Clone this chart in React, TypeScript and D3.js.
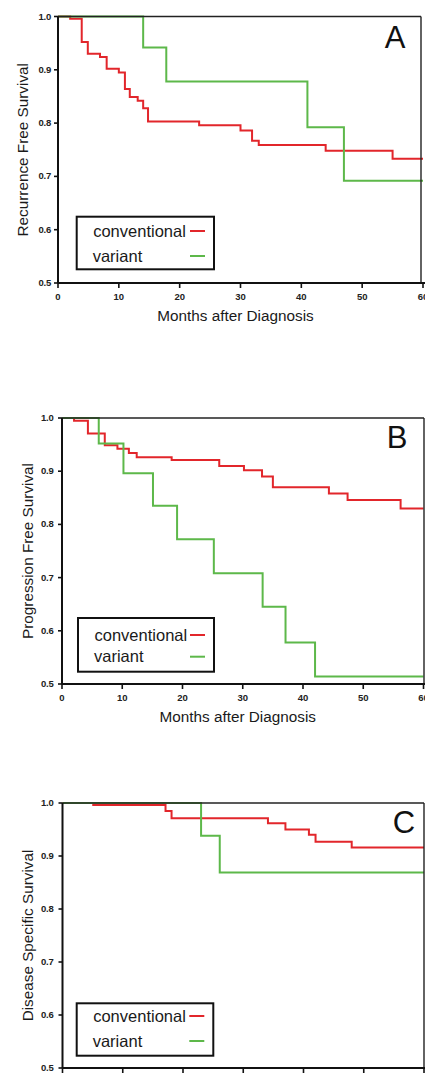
import React from "react";
import * as d3 from "d3";

// ---------- Data ----------
const xTicks = [0, 10, 20, 30, 40, 50, 60];
const yTicks = [0.5, 0.6, 0.7, 0.8, 0.9, 1.0];
const yTickLabels = ["0.5", "0.6", "0.7", "0.8", "0.9", "1.0"];
const seriesNames = ["conventional", "variant"];

// Panel A: Recurrence Free Survival
const aConvTimes = [0, 2, 3.9, 4.9, 6.9, 8, 10, 11, 11.8, 13.1, 14, 14.8, 23.2, 30, 31.9, 33, 44, 55, 60];
const aConvSurv = [1.0, 0.996, 0.952, 0.93, 0.924, 0.902, 0.895, 0.864, 0.849, 0.842, 0.828, 0.803, 0.796, 0.786, 0.767, 0.759, 0.748, 0.733, 0.733];
const aVarTimes = [0, 14, 17.8, 41, 47, 60];
const aVarSurv = [1.0, 0.942, 0.878, 0.792, 0.692, 0.692];

// Panel B: Progression Free Survival
const bConvTimes = [0, 2, 4.3, 7.1, 9.2, 11.1, 12.4, 18.2, 26.1, 30.2, 33.2, 35, 44.3, 47.4, 56.2, 60];
const bConvSurv = [1.0, 0.995, 0.971, 0.949, 0.942, 0.934, 0.926, 0.921, 0.91, 0.902, 0.89, 0.87, 0.858, 0.846, 0.83, 0.83];
const bVarTimes = [0, 6.1, 10.2, 15.1, 19.1, 25.2, 33.3, 37.1, 42, 60];
const bVarSurv = [1.0, 0.952, 0.896, 0.835, 0.772, 0.708, 0.645, 0.578, 0.514, 0.514];

// Panel C: Disease Specific Survival
const cConvTimes = [0, 5.1, 17.1, 18.1, 34.1, 37, 40.9, 42, 48, 60];
const cConvSurv = [1.0, 0.996, 0.985, 0.971, 0.962, 0.95, 0.94, 0.927, 0.916, 0.916];
const cVarTimes = [0, 23, 26.1, 60];
const cVarSurv = [1.0, 0.938, 0.869, 0.869];

const RED = "#e2262b";
const GREEN = "#5db84a";
const FONT = "'Liberation Sans', Arial, Helvetica, sans-serif";

type Geo = {
  left: number; right: number; top: number; bottom: number; frameRight: number;
  yLabelX: number; tickRight: number; letterX: number; letterY: number;
  legend: { x0: number; x1: number; y0: number; y1: number; r1: number; r2: number };
  xLabelY: number; xTickLabelY: number; showXLabels: boolean;
};

type PanelProps = {
  geo: Geo; letter: string; yLabel: string;
  conv: [number[], number[]]; variant: [number[], number[]];
};

function Panel({ geo, letter, yLabel, conv, variant }: PanelProps) {
  const x = d3.scaleLinear().domain([0, 60]).range([geo.left, geo.right]);
  const y = d3.scaleLinear().domain([0.5, 1.0]).range([geo.bottom, geo.top]);
  const line = d3
    .line<[number, number]>()
    .x((d) => x(d[0]))
    .y((d) => y(d[1]))
    .curve(d3.curveStepAfter);
  const toPts = (s: [number[], number[]]) => s[0].map((t, i) => [t, s[1][i]] as [number, number]);
  const lg = geo.legend;
  const midX = (geo.left + geo.right) / 2 - 5;
  const midY = (geo.top + geo.bottom) / 2;
  return (
    <g>
      <path d={line(toPts(conv)) || ""} fill="none" stroke={RED} strokeWidth={2} />
      <path d={line(toPts(variant)) || ""} fill="none" stroke={GREEN} strokeWidth={2} />
      {/* frame */}
      <line x1={geo.left} x2={geo.frameRight} y1={geo.top} y2={geo.top} stroke="#222" strokeWidth={1.6} />
      <line x1={geo.frameRight} x2={geo.frameRight} y1={geo.top} y2={geo.bottom} stroke="#222" strokeWidth={1.4} />
      <line x1={geo.left} x2={geo.left} y1={geo.top} y2={geo.bottom} stroke="#111" strokeWidth={2} />
      <line x1={geo.left} x2={geo.right + 2} y1={geo.bottom} y2={geo.bottom} stroke="#111" strokeWidth={2} />
      {/* y ticks */}
      {yTicks.map((v, i) => (
        <g key={"y" + i}>
          <line x1={geo.left - 4} x2={geo.left} y1={y(v)} y2={y(v)} stroke="#111" strokeWidth={1.6} />
          <text x={geo.tickRight} y={y(v) + 3} textAnchor="end" fontSize={9.5} fontWeight="bold" fontFamily={FONT} fill="#222" letterSpacing={-0.2}>
            {yTickLabels[i]}
          </text>
        </g>
      ))}
      {/* x ticks */}
      {xTicks.map((t) => (
        <g key={"x" + t}>
          <line x1={x(t)} x2={x(t)} y1={geo.bottom} y2={geo.bottom + 5} stroke="#111" strokeWidth={1.6} />
          {geo.showXLabels && (
            <text x={x(t)} y={geo.xTickLabelY} textAnchor="middle" fontSize={9.5} fontWeight="bold" fontFamily={FONT} fill="#222">
              {t}
            </text>
          )}
        </g>
      ))}
      {geo.showXLabels && (
        <text x={midX} y={geo.xLabelY} textAnchor="middle" fontSize={15.3} fontFamily={FONT} fill="#1a1a1a">
          Months after Diagnosis
        </text>
      )}
      <text
        transform={`translate(${geo.yLabelX},${midY}) rotate(-90)`}
        textAnchor="middle"
        fontSize={15.3}
        fontFamily={FONT}
        fill="#1a1a1a"
      >
        {yLabel}
      </text>
      <text x={geo.letterX} y={geo.letterY} fontSize={31} fontFamily={FONT} fill="#111" textAnchor="middle">
        {letter}
      </text>
      {/* legend */}
      <rect x={lg.x0} y={lg.y0} width={lg.x1 - lg.x0} height={lg.y1 - lg.y0} fill="#fff" stroke="#111" strokeWidth={2} />
      <text x={lg.x0 + 16.5} y={lg.r1 + 5.5} fontSize={16.5} fontFamily={FONT} fill="#1a1a1a">
        {seriesNames[0]}
      </text>
      <text x={lg.x0 + 16} y={lg.r2 + 5.5} fontSize={16.5} fontFamily={FONT} fill="#1a1a1a">
        {seriesNames[1]}
      </text>
      <line x1={lg.x1 - 24} x2={lg.x1 - 9} y1={lg.r1} y2={lg.r1} stroke={RED} strokeWidth={2} />
      <line x1={lg.x1 - 24} x2={lg.x1 - 9} y1={lg.r2} y2={lg.r2} stroke={GREEN} strokeWidth={2} />
    </g>
  );
}

const geoA: Geo = {
  left: 58, right: 423, top: 16.5, bottom: 283, frameRight: 421,
  yLabelX: 28, tickRight: 51, letterX: 395, letterY: 48,
  legend: { x0: 76.7, x1: 214, y0: 216.7, y1: 269.3, r1: 231, r2: 256 },
  xLabelY: 321, xTickLabelY: 300, showXLabels: true,
};
const geoB: Geo = {
  left: 62, right: 423.5, top: 418, bottom: 684, frameRight: 424,
  yLabelX: 33, tickRight: 53.5, letterX: 397, letterY: 448,
  legend: { x0: 78, x1: 214, y0: 618, y1: 671.7, r1: 635, r2: 656.7 },
  xLabelY: 722, xTickLabelY: 700.5, showXLabels: true,
};
const geoC: Geo = {
  left: 62.5, right: 424, top: 803, bottom: 1068, frameRight: 424,
  yLabelX: 33, tickRight: 53.5, letterX: 404, letterY: 833,
  legend: { x0: 76.7, x1: 213.3, y0: 1003.3, y1: 1055.7, r1: 1016, r2: 1041 },
  xLabelY: 1110, xTickLabelY: 1085, showXLabels: false,
};

export default function App() {
  return (
    <svg
      width={425}
      height={1076}
      style={{ position: "absolute", left: 0, top: 0, background: "#fff" }}
    >
      <rect x={0} y={0} width={425} height={1076} fill="#fff" />
      <Panel geo={geoA} letter="A" yLabel="Recurrence Free Survival" conv={[aConvTimes, aConvSurv]} variant={[aVarTimes, aVarSurv]} />
      <Panel geo={geoB} letter="B" yLabel="Progression Free Survival" conv={[bConvTimes, bConvSurv]} variant={[bVarTimes, bVarSurv]} />
      <Panel geo={geoC} letter="C" yLabel="Disease Specific Survival" conv={[cConvTimes, cConvSurv]} variant={[cVarTimes, cVarSurv]} />
    </svg>
  );
}
